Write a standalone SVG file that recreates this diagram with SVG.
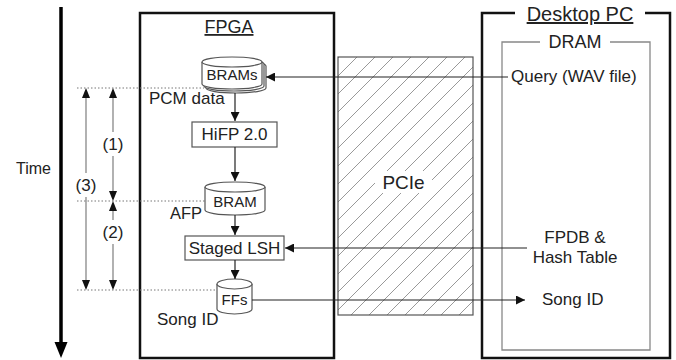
<svg xmlns="http://www.w3.org/2000/svg" width="676" height="360" viewBox="0 0 676 360">
<style>
text{font-family:"Liberation Sans",Arial,sans-serif;fill:#222;}
.box{fill:none;stroke:#111;stroke-width:2.5;}
.nd{fill:#fff;stroke:#555;stroke-width:1.2;}
.dot{stroke:#777;stroke-width:1;stroke-dasharray:1.5,2;fill:none;}
.gl{stroke:#888;stroke-width:1.3;fill:none;}
.bl{stroke:#222;stroke-width:1.2;fill:none;}
.bg{fill:#fff;}
</style>
<defs>
<marker id="ah" viewBox="0 0 10 10" refX="10" refY="5" markerWidth="10" markerHeight="9" markerUnits="userSpaceOnUse" orient="auto-start-reverse">
<path d="M0,0 L10,5 L0,10 z" fill="#111"/>
</marker>
<pattern id="hatch" patternUnits="userSpaceOnUse" width="18" height="18">
<path d="M0,18 L18,0 M-4.5,4.5 L4.5,-4.5 M13.5,22.5 L22.5,13.5" stroke="#999" stroke-width="1"/>
</pattern>
</defs>

<g id="time-axis">
<line x1="61" y1="7" x2="61" y2="344" stroke="#000" stroke-width="3.5"/>
<polygon points="54.5,342 67.5,342 61,358" fill="#000"/>
<text x="16" y="174" font-size="16">Time</text>
</g>

<g id="fpga">
<rect class="box" x="140" y="13" width="194" height="345"/>
<rect class="bg" x="200" y="16" width="60" height="22"/>
<text x="229" y="33" font-size="18" text-anchor="middle" text-decoration="underline">FPGA</text>
</g>

<g id="pcie">
<rect x="338" y="57" width="135" height="258" fill="url(#hatch)" stroke="#555" stroke-width="1.2"/>
<rect class="bg" x="375" y="171" width="57" height="22"/>
<text x="403.5" y="189" font-size="19" text-anchor="middle">PCIe</text>
</g>

<g id="desktop-pc">
<path class="box" d="M515,13 H482 V358 H670 V13 H645"/>
<text x="580" y="21" font-size="20" text-anchor="middle" text-decoration="underline">Desktop PC</text>
</g>

<g id="dram">
<path d="M540,42 H502 V350 H650 V42 H610" fill="none" stroke="#888" stroke-width="1.3"/>
<text x="575" y="48" font-size="18" text-anchor="middle">DRAM</text>
</g>

<g id="query">
<text x="511" y="82" font-size="17">Query (WAV file)</text>
</g>
<g id="fpdb">
<text x="575" y="243" font-size="17" text-anchor="middle">FPDB &amp;</text>
<text x="575" y="263" font-size="17" text-anchor="middle">Hash Table</text>
</g>
<g id="song-id-pc">
<text x="542" y="305" font-size="17">Song ID</text>
</g>

<g id="timing">
<line class="dot" x1="77" y1="88" x2="204" y2="88"/>
<line class="dot" x1="77" y1="201" x2="205" y2="201"/>
<line class="dot" x1="77" y1="290" x2="217" y2="290"/>
<line class="gl" x1="86" y1="98" x2="86" y2="280"/>
<polygon points="86,88 82,98 90,98" fill="#111"/>
<polygon points="86,290 82,280 90,280" fill="#111"/>
<line class="gl" x1="113" y1="98" x2="113" y2="191"/>
<polygon points="113,88 109,98 117,98" fill="#111"/>
<polygon points="113,201 109,191 117,191" fill="#111"/>
<line class="gl" x1="113" y1="211" x2="113" y2="280"/>
<polygon points="113,201 109,211 117,211" fill="#111"/>
<polygon points="113,290 109,280 117,280" fill="#111"/>
<rect class="bg" x="101" y="132" width="24" height="24"/>
<text x="113" y="150" font-size="17" text-anchor="middle">(1)</text>
<rect class="bg" x="101" y="220" width="24" height="24"/>
<text x="113" y="238" font-size="17" text-anchor="middle">(2)</text>
<rect class="bg" x="74" y="173" width="24" height="24"/>
<text x="86" y="191" font-size="17" text-anchor="middle">(3)</text>
</g>

<g id="brams">
<path class="nd" d="M206,66 A30,5 0 0 1 266,66 V88 A30,5 0 0 1 206,88 Z"/>
<path class="nd" d="M204,64 A30,5 0 0 1 264,64 V86 A30,5 0 0 1 204,86 Z"/>
<path class="nd" d="M202,62 A30,5 0 0 1 262,62 V84 A30,5 0 0 1 202,84 Z"/>
<path class="nd" d="M202,62 A30,5 0 0 0 262,62"/>
<text x="232" y="80" font-size="15" text-anchor="middle">BRAMs</text>
<text x="149" y="104" font-size="17">PCM data</text>
</g>

<g id="hifp">
<rect class="nd" x="192" y="122" width="85" height="25"/>
<text x="234.5" y="140" font-size="17" text-anchor="middle">HiFP 2.0</text>
</g>

<g id="bram">
<path class="nd" d="M205,187 A30,5 0 0 1 265,187 V210 A30,5 0 0 1 205,210 Z"/>
<path class="nd" d="M205,187 A30,5 0 0 0 265,187"/>
<text x="235" y="207" font-size="15" text-anchor="middle">BRAM</text>
<text x="170" y="219" font-size="16.5">AFP</text>
</g>

<g id="staged-lsh">
<rect class="nd" x="185" y="236" width="99" height="24"/>
<text x="234.5" y="254" font-size="17" text-anchor="middle">Staged LSH</text>
</g>

<g id="ffs">
<path class="nd" d="M217,284 A17.5,5 0 0 1 252,284 V309 A17.5,5 0 0 1 217,309 Z"/>
<path class="nd" d="M217,284 A17.5,5 0 0 0 252,284"/>
<text x="234.5" y="305" font-size="15" text-anchor="middle">FFs</text>
<text x="157" y="325" font-size="17">Song ID</text>
</g>

<g id="connectors">
<line class="bl" x1="235" y1="93" x2="235" y2="121" marker-end="url(#ah)"/>
<line class="bl" x1="235" y1="147" x2="235" y2="181" marker-end="url(#ah)"/>
<line class="bl" x1="235" y1="215" x2="235" y2="235" marker-end="url(#ah)"/>
<line class="bl" x1="235" y1="260" x2="235" y2="279" marker-end="url(#ah)"/>
<line class="bl" x1="508" y1="77" x2="266" y2="77" marker-end="url(#ah)"/>
<line class="bl" x1="527" y1="248" x2="285" y2="248" marker-end="url(#ah)"/>
<line class="bl" x1="252" y1="300" x2="525" y2="300" marker-end="url(#ah)"/>
</g>
</svg>
